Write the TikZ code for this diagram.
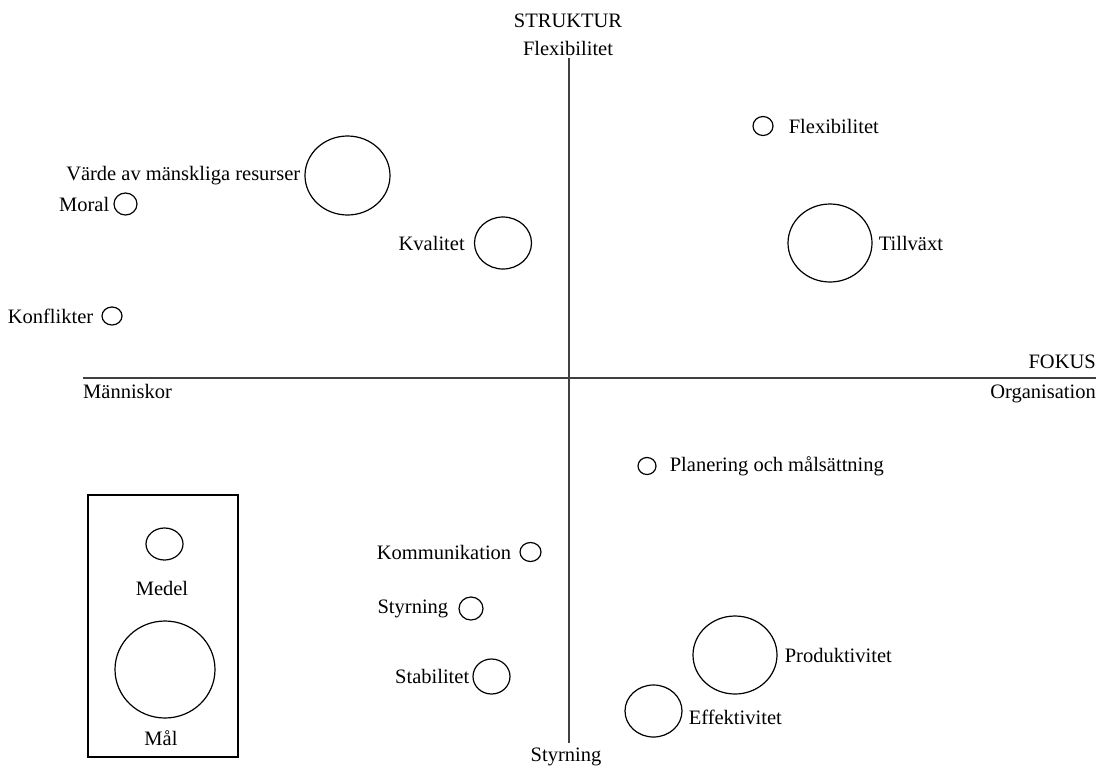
\documentclass[tikz,border=0pt]{standalone}
\usepackage{fontspec}
\setmainfont{Liberation Serif}
\usetikzlibrary{positioning,shapes.geometric}

\begin{document}
\begin{tikzpicture}[x=1pt,y=-1pt,node distance=6pt,
	ring/.style={draw,ellipse,line width=1.2pt,inner sep=0pt},
	lbl/.style={inner sep=0pt,font=\fontsize{20.5}{24}\selectfont},
	axis/.style={draw=black!75,line width=1.8pt}]
	\useasboundingbox (0,0) rectangle (1099,769);

	% axes and their labels
	\node(struktur)[lbl,anchor=base] at (568,27){STRUKTUR};
	\node(flexaxis)[lbl,anchor=base] at (568,55){Flexibilitet};
	\node(styraxis)[lbl,anchor=base] at (566,761){Styrning};
	\node(fokus)[lbl,anchor=base east] at (1096,368){FOKUS};
	\node(org)[lbl,anchor=base east] at (1096,398){Organisation};
	\node(manni)[lbl,anchor=base west] at (83,398){Människor};
	\coordinate(vtop) at (569,58);
	\coordinate(vbot) at (569,743);
	\coordinate(hleft) at (83,378);
	\coordinate(hright) at (1096,378);
	\path[axis] (vtop) -- (vbot)
	            (hleft) -- (hright);

	% upper half
	\node(flex)[ring,minimum width=20pt,minimum height=19pt] at (763,126){};
	\node(flexL)[lbl,right=15pt of flex]{Flexibilitet};
	\node(varde)[ring,minimum width=85pt,minimum height=79pt] at (347.5,175.5){};
	\node(vardeL)[lbl,left=4pt of varde]{Värde av mänskliga resurser};
	\node(moral)[ring,minimum width=23pt,minimum height=22pt] at (125.5,204){};
	\node(moralL)[lbl,left=4pt of moral]{Moral};
	\node(kval)[ring,minimum width=57pt,minimum height=52pt] at (503,243){};
	\node(kvalL)[lbl,left=9pt of kval]{Kvalitet};
	\node(tillv)[ring,minimum width=84pt,minimum height=78pt] at (830,243){};
	\node(tillvL)[lbl,right=6pt of tillv]{Tillväxt};
	\node(konfl)[ring,minimum width=20pt,minimum height=18pt] at (112,316){};
	\node(konflL)[lbl,left=8pt of konfl]{Konflikter};

	% lower half
	\node(plan)[ring,minimum width=18pt,minimum height=17pt] at (647,466){};
	\node(planL)[lbl,right=13pt of plan]{Planering och målsättning};
	\node(komm)[ring,minimum width=21pt,minimum height=19pt] at (530.5,552){};
	\node(kommL)[lbl,left=8pt of komm]{Kommunikation};
	\node(styr)[ring,minimum width=24pt,minimum height=23pt] at (471,608.5){};
	\node(styrL)[lbl,left=10pt of styr]{Styrning};
	\node(stab)[ring,minimum width=37pt,minimum height=35pt] at (491.5,676.5){};
	\node(stabL)[lbl,left=3pt of stab]{Stabilitet};
	\node(prod)[ring,minimum width=84pt,minimum height=78pt] at (735,655){};
	\node(prodL)[lbl,right=7pt of prod]{Produktivitet};
	\node(effekt)[ring,minimum width=57pt,minimum height=52pt] at (653.5,711){};
	\node(effektL)[lbl,right=6pt of effekt,yshift=-6pt]{Effektivitet};

	% legend
	\node(legend)[draw,line width=1.4pt,minimum width=150pt,minimum height=262pt,inner sep=0pt] at (163,626){};
	\node(medelC)[ring,minimum width=37pt,minimum height=32pt] at (164.5,544){};
	\node(medel)[lbl,anchor=base] at (162,595){Medel};
	\node(malC)[ring,minimum width=100pt,minimum height=97pt] at (165,669.5){};
	\node(mal)[lbl,anchor=base] at (161,745){Mål};
\end{tikzpicture}
\end{document}
